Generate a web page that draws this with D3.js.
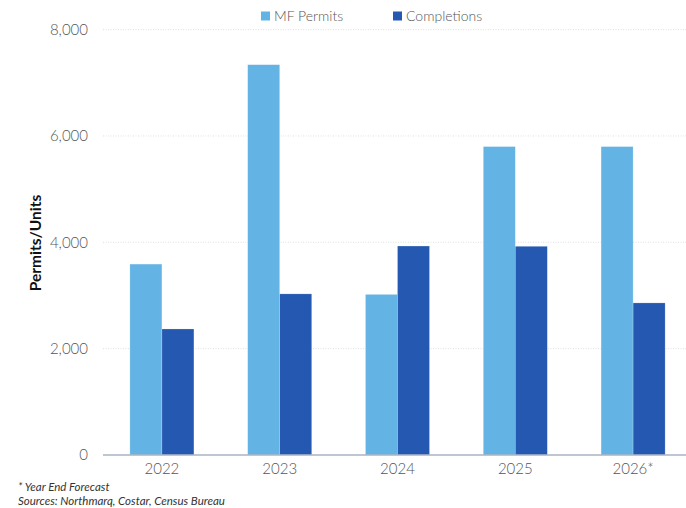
<!DOCTYPE html>
<html>
<head>
<meta charset="utf-8">
<script src="https://cdn.jsdelivr.net/npm/d3@7"></script>
<style>
  html, body { margin: 0; padding: 0; background: #fff; }
  svg { display: block; }
</style>
</head>
<body>
<svg id="chart" width="686" height="508"></svg>
<script>
// Multifamily permits vs. completions by year
const years = ["2022", "2023", "2024", "2025", "2026*"];
const seriesNames = ["MF Permits", "Completions"];
const mfPermits = [3590, 7340, 3020, 5800, 5800];
const completions = [2370, 3030, 3930, 3925, 2860];
const yTicks = [0, 2000, 4000, 6000, 8000];
const footnotes = ["* Year End Forecast", "Sources: Northmarq, Costar, Census Bureau"];

const colors = { "MF Permits": "#63b4e5", "Completions": "#2558b1" };
const font = "Lato, 'Open Sans', sans-serif";

const svg = d3.select("#chart");
const W = 686, H = 508;
const plot = { left: 103, right: 692, top: 29.6, bottom: 455 };

const rows = years.map((y, i) => ({ year: y, values: [
  { key: seriesNames[0], value: mfPermits[i] },
  { key: seriesNames[1], value: completions[i] }
]}));

const y = d3.scaleLinear().domain([0, 8000]).range([plot.bottom, plot.top]);
const x0 = d3.scaleBand().domain(years).range([plot.left, plot.right])
  .paddingInner(0.4565).paddingOuter(0.4565 / 2);
const x1 = d3.scaleBand().domain(seriesNames).range([0, x0.bandwidth()]).padding(0);

// dotted horizontal gridlines
svg.append("g")
  .selectAll("line")
  .data(yTicks.filter(t => t > 0))
  .join("line")
  .attr("x1", plot.left).attr("x2", W)
  .attr("y1", d => y(d)).attr("y2", d => y(d))
  .attr("stroke", "#e0e0e0")
  .attr("stroke-width", 1)
  .attr("stroke-dasharray", "1,1.5");

// y tick labels
const yAxis = svg.append("g")
  .attr("transform", `translate(${plot.left - 15},0)`)
  .call(d3.axisLeft(y).tickValues(yTicks).tickFormat(d3.format(",")).tickSize(0).tickPadding(0));
yAxis.select(".domain").remove();
yAxis.selectAll("text")
  .attr("font-family", font)
  .attr("font-weight", 300)
  .attr("font-size", 15)
  .attr("fill", "#555");

// bars
const groups = svg.append("g")
  .selectAll("g")
  .data(rows)
  .join("g")
  .attr("transform", d => `translate(${x0(d.year)},0)`);

groups.selectAll("rect")
  .data(d => d.values)
  .join("rect")
  .attr("x", d => x1(d.key))
  .attr("width", x1.bandwidth())
  .attr("y", d => y(d.value))
  .attr("height", d => y(0) - y(d.value))
  .attr("fill", d => colors[d.key])
  .attr("stroke", "rgba(255,255,255,0.35)")
  .attr("stroke-width", 0.6);

// x axis
const xAxis = svg.append("g")
  .attr("transform", `translate(0,${plot.bottom})`)
  .call(d3.axisBottom(x0).tickSize(0).tickPadding(8));
xAxis.select(".domain").remove();
xAxis.append("line")
  .attr("x1", plot.left).attr("x2", W)
  .attr("y1", 0).attr("y2", 0)
  .attr("stroke", "#aab3c4")
  .attr("stroke-width", 1.5);
xAxis.selectAll("text")
  .attr("font-family", font)
  .attr("font-weight", 300)
  .attr("font-size", 15)
  .attr("fill", "#555");

// y axis title
svg.append("text")
  .attr("transform", `translate(41,243) rotate(-90)`)
  .attr("text-anchor", "middle")
  .attr("font-family", font)
  .attr("font-weight", 700)
  .attr("font-size", 15.5)
  .attr("fill", "#111")
  .text("Permits/Units");

// legend
const legendX = [261, 393];
const legend = svg.append("g")
  .selectAll("g")
  .data(seriesNames)
  .join("g")
  .attr("transform", (d, i) => `translate(${legendX[i]},11.5)`);
legend.append("rect")
  .attr("width", 9).attr("height", 9)
  .attr("fill", d => colors[d]);
legend.append("text")
  .attr("x", 13).attr("y", 9)
  .attr("font-family", font)
  .attr("font-weight", 300)
  .attr("font-size", 14)
  .attr("fill", "#555")
  .text(d => d);

// footnotes
svg.append("g")
  .selectAll("text")
  .data(footnotes)
  .join("text")
  .attr("x", 18)
  .attr("y", (d, i) => 491 + i * 14)
  .attr("font-family", font)
  .attr("font-style", "italic")
  .attr("font-size", 11.5)
  .attr("fill", "#333")
  .text(d => d);
</script>
</body>
</html>
